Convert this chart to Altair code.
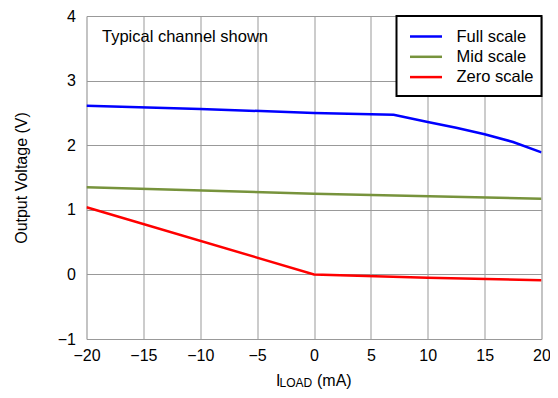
import altair as alt
import pandas as pd

# Data
full_x = [-20, -10, 0, 7, 10, 12.5, 15, 17.5, 20]
full_y = [2.61, 2.56, 2.50, 2.47, 2.36, 2.27, 2.17, 2.05, 1.89]
mid_x = [-20, 0, 20]
mid_y = [1.35, 1.25, 1.17]
zero_x = [-20, 0, 10, 20]
zero_y = [1.04, 0.0, -0.05, -0.09]

series_names = ["Full scale", "Mid scale", "Zero scale"]
series_colors = ["#0000FF", "#77933C", "#FF0000"]

FONT = "Liberation Sans"

rows = []
for name, xs, ys in zip(series_names, [full_x, mid_x, zero_x], [full_y, mid_y, zero_y]):
    for x, y in zip(xs, ys):
        rows.append({"series": name, "x": x, "y": y})
df = pd.DataFrame(rows)

color_scale = alt.Scale(domain=series_names, range=series_colors)

lines = alt.Chart(df).mark_line(strokeWidth=2.5, clip=True).encode(
    x=alt.X("x:Q", scale=alt.Scale(domain=[-20, 20], nice=False),
            axis=alt.Axis(values=list(range(-20, 21, 5)), title=None, grid=True,
                          domain=False, ticks=False, labelPadding=8,
                          labelFontSize=16, labelFont=FONT, labelColor="black",
                          gridColor="#999999", labelFlush=False)),
    y=alt.Y("y:Q", scale=alt.Scale(domain=[-1, 4], nice=False),
            axis=alt.Axis(values=[-1, 0, 1, 2, 3, 4], title="Output Voltage (V)",
                          grid=True, domain=False, ticks=False, labelPadding=11,
                          labelFontSize=16, labelFont=FONT, labelColor="black",
                          gridColor="#999999", titleFont=FONT, titleFontSize=16,
                          titleFontWeight="normal", titleColor="black",
                          titleAngle=-90, titleX=-65, titleY=161.5,
                          titleBaseline="middle", titleAlign="center")),
    color=alt.Color("series:N", scale=color_scale, legend=None),
    detail="series:N",
)

# Legend (manual)
leg_df = pd.DataFrame({"series": series_names, "idx": list(range(len(series_names)))})
leg_base = alt.Chart(leg_df).transform_calculate(ly="20.5 + datum.idx * 20.3")

leg_box = alt.Chart(pd.DataFrame({"a": [0]})).mark_rect(
    fill="white", stroke="black", strokeWidth=2
).encode(x=alt.value(310), x2=alt.value(455), y=alt.value(0), y2=alt.value(80))

leg_lines = leg_base.mark_rule(strokeWidth=2.5).encode(
    x=alt.value(323.5), x2=alt.value(355.5), y=alt.Y("ly:Q", scale=None),
    color=alt.Color("series:N", scale=color_scale, legend=None),
)
leg_text = leg_base.mark_text(align="left", baseline="middle", fontSize=16.5,
                              font=FONT, color="black").encode(
    x=alt.value(370), y=alt.Y("ly:Q", scale=None), text="series:N"
)

note = alt.Chart(pd.DataFrame({"t": ["Typical channel shown"]})).mark_text(
    align="left", baseline="middle", fontSize=16.5, font=FONT, color="black"
).encode(x=alt.value(15.5), y=alt.value(20.5), text="t:N")

# X axis title with subscript
xt_df = pd.DataFrame({"t": ["I"]})
xt1 = alt.Chart(pd.DataFrame({"t": ["I"]})).mark_text(
    align="left", baseline="alphabetic", fontSize=16, font=FONT, color="black"
).encode(x=alt.value(189.5), y=alt.value(369.5), text="t:N")
xt2 = alt.Chart(pd.DataFrame({"t": ["LOAD"]})).mark_text(
    align="left", baseline="alphabetic", fontSize=12, font=FONT, color="black"
).encode(x=alt.value(193), y=alt.value(371), text="t:N")
xt3 = alt.Chart(pd.DataFrame({"t": ["(mA)"]})).mark_text(
    align="left", baseline="alphabetic", fontSize=16, font=FONT, color="black"
).encode(x=alt.value(230.5), y=alt.value(369.5), text="t:N")

chart = alt.layer(lines, leg_box, leg_lines, leg_text, note, xt1, xt2, xt3).properties(
    width=455, height=323,
    autosize=alt.AutoSizeParams(type="none"),
    padding={"left": 78.5, "top": 8, "right": 8, "bottom": 51},
).configure_view(
    stroke="black", strokeWidth=2.5
).configure(background="white")

chart.save("out.html", embed_options={"renderer": "svg", "actions": False})
